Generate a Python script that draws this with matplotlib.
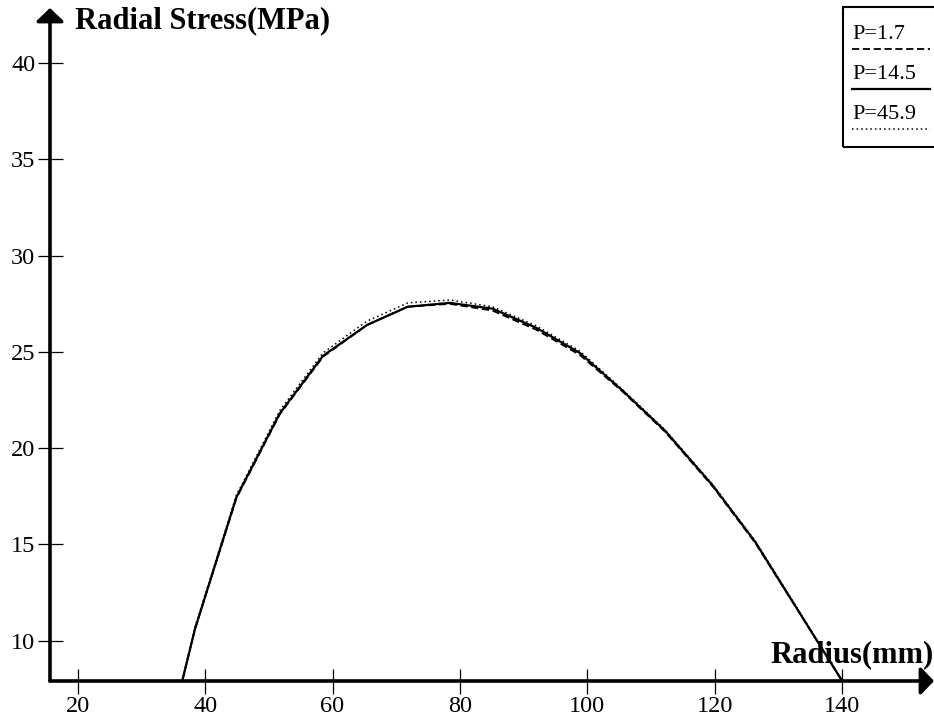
import matplotlib
matplotlib.use("Agg")
import matplotlib.pyplot as plt
from matplotlib.lines import Line2D
from matplotlib.patches import Rectangle

plt.rcParams["font.family"] = ["Liberation Serif", "DejaVu Serif"]

# radius (mm) and radial stress (MPa) for three pressures
radius = [36.4, 38.4, 44.9, 51.7, 58.5, 65.4, 71.8, 78.4, 85.1, 92.0,
          98.8, 105.5, 112.2, 119.7, 126.3, 133.2, 140.0]
stress_p1_7 = [7.9, 10.6, 17.4, 21.75, 24.75, 26.4, 27.35, 27.5, 27.15, 26.15,
               24.85, 22.95, 20.85, 18.0, 15.1, 11.5, 7.9]
stress_p14_5 = [7.9, 10.6, 17.45, 21.8, 24.8, 26.4, 27.35, 27.55, 27.25, 26.25,
                24.95, 23.0, 20.9, 18.05, 15.15, 11.5, 7.9]
stress_p45_9 = [7.9, 10.7, 17.55, 21.95, 24.95, 26.6, 27.55, 27.7, 27.35, 26.35,
                25.05, 23.05, 20.95, 18.1, 15.2, 11.55, 7.9]

labels = ["P=1.7", "P=14.5", "P=45.9"]
series = [stress_p1_7, stress_p14_5, stress_p45_9]
styles = [dict(ls=(0, (4, 2)), lw=1.3),
          dict(ls="-", lw=1.6),
          dict(ls=(0, (1, 2)), lw=1.1)]

xticks = [20, 40, 60, 80, 100, 120, 140]
yticks = [10, 15, 20, 25, 30, 35, 40]

W, H = 934, 717
fig = plt.figure(figsize=(W / 100, H / 100), dpi=100)
ax = fig.add_axes([50 / W, 36 / H, 884 / W, 673 / H])
ax.set_xlim(15.65, 154.4)
ax.set_ylim(7.905, 42.87)

for y, st in zip(series, styles):
    ax.plot(radius, y, color="black", **st)

for s in ax.spines.values():
    s.set_visible(False)

# axis lines with arrow heads
arrow = dict(arrowstyle="-|>,head_length=0.4,head_width=0.42", lw=2.6,
             color="black", mutation_scale=20, shrinkA=0, shrinkB=0)
ax.annotate("", xy=(0, 1), xytext=(0, 0), xycoords="axes fraction",
            arrowprops=arrow, annotation_clip=False)
ax.annotate("", xy=(1, 0), xytext=(0, 0), xycoords="axes fraction",
            arrowprops=arrow, annotation_clip=False)

ax.set_xticks(xticks)
ax.set_yticks(yticks)
ax.tick_params(axis="x", direction="inout", length=18, width=0.9,
               labelsize=17.5, pad=1.5)
ax.tick_params(axis="y", direction="inout", length=18, width=0.9,
               labelsize=17.5, pad=1.5)

fig.text(75 / W, 1 - 28 / H, "Radial Stress(MPa)", fontsize=22,
         fontweight="bold", va="baseline", ha="left")
fig.text(770 / W, 1 - 662 / H, "Radius(mm)", fontsize=22,
         fontweight="bold", va="baseline", ha="left")

# legend box: label above its line sample
fig.patches.append(Rectangle((843 / W, 1 - 147 / H), 120 / W, 140 / H,
                             transform=fig.transFigure, fill=False,
                             lw=1.5, ec="black"))
for i, (lab, st) in enumerate(zip(labels, styles)):
    base = 39 + 40 * i
    fig.text(852 / W, 1 - base / H, lab, fontsize=16, va="baseline", ha="left")
    ly = 1 - (base + 10) / H
    fig.lines.append(Line2D([852 / W, 930 / W], [ly, ly],
                            transform=fig.transFigure, color="black", **st))

fig.savefig("out.png", dpi=100)
